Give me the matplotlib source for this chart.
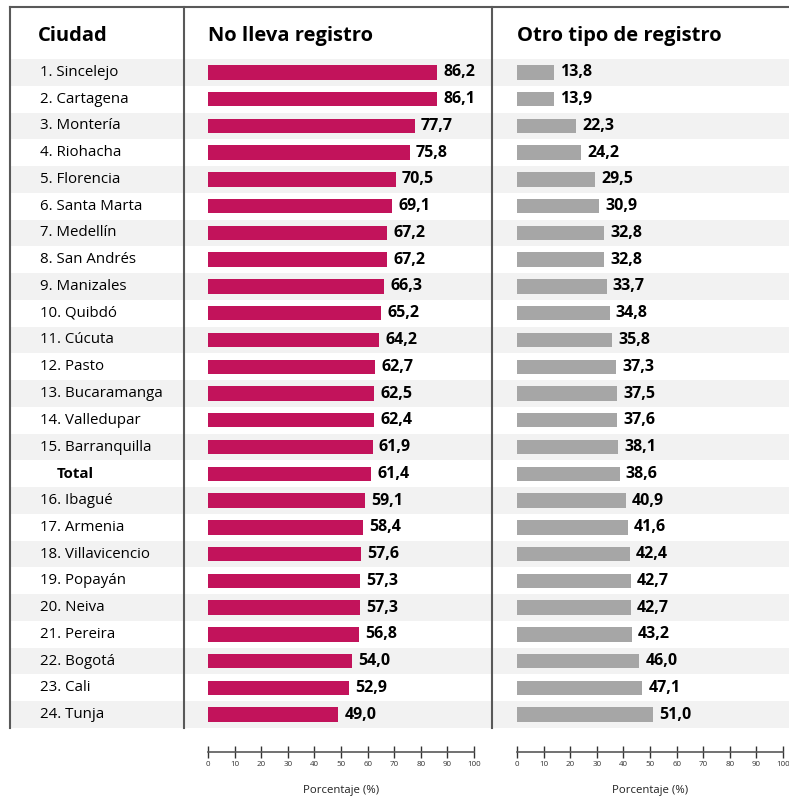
import matplotlib
matplotlib.use("Agg")
import matplotlib.pyplot as plt
from matplotlib.patches import Rectangle

plt.rcParams['font.family'] = ['Open Sans', 'DejaVu Sans']

ciudades = ["1. Sincelejo", "2. Cartagena", "3. Montería", "4. Riohacha", "5. Florencia",
            "6. Santa Marta", "7. Medellín", "8. San Andrés", "9. Manizales", "10. Quibdó",
            "11. Cúcuta", "12. Pasto", "13. Bucaramanga", "14. Valledupar", "15. Barranquilla",
            "Total", "16. Ibagué", "17. Armenia", "18. Villavicencio", "19. Popayán",
            "20. Neiva", "21. Pereira", "22. Bogotá", "23. Cali", "24. Tunja"]
no_lleva = [86.2, 86.1, 77.7, 75.8, 70.5, 69.1, 67.2, 67.2, 66.3, 65.2, 64.2, 62.7, 62.5,
            62.4, 61.9, 61.4, 59.1, 58.4, 57.6, 57.3, 57.3, 56.8, 54.0, 52.9, 49.0]
otro_tipo = [13.8, 13.9, 22.3, 24.2, 29.5, 30.9, 32.8, 32.8, 33.7, 34.8, 35.8, 37.3, 37.5,
             37.6, 38.1, 38.6, 40.9, 41.6, 42.4, 42.7, 42.7, 43.2, 46.0, 47.1, 51.0]
encabezados = ["Ciudad", "No lleva registro", "Otro tipo de registro"]
ticks = list(range(0, 101, 10))

W, H = 789, 796
MAGENTA = "#C2135B"
GRIS = "#A6A6A6"
BANDA = "#F2F2F2"
LINEA = "#595959"

fig = plt.figure(figsize=(W / 100, H / 100), dpi=100)

# background layer in pixel coordinates
bg = fig.add_axes([0, 0, 1, 1])
bg.set_xlim(0, W)
bg.set_ylim(H, 0)
bg.axis("off")

top, bottom = 59, 728
n = len(ciudades)
row_h = (bottom - top) / n
for i in range(n):
    if i % 2 == 0:
        bg.add_patch(Rectangle((10, top + i * row_h), W - 10, row_h, color=BANDA, lw=0, zorder=0))

bg.plot([10, W], [7, 7], color=LINEA, lw=1.5, zorder=3)
for x in (10, 184, 492):
    bg.plot([x, x], [7, bottom], color=LINEA, lw=1.5, zorder=3)

bg.text(38, 36, encabezados[0], fontsize=14.5, fontweight="bold", va="center", ha="left")
bg.text(208, 36, encabezados[1], fontsize=14.5, fontweight="bold", va="center", ha="left")
bg.text(517, 36, encabezados[2], fontsize=14.5, fontweight="bold", va="center", ha="left")

for i, c in enumerate(ciudades):
    y = top + (i + 0.5) * row_h
    if c == "Total":
        bg.text(57, y, c, fontsize=10.8, fontweight="bold", va="center", ha="left")
    else:
        bg.text(40, y, c, fontsize=10.8, va="center", ha="left")


def panel(x0, x1, valores, color):
    ax = fig.add_axes([x0 / W, (H - bottom) / H, (x1 - x0) / W, (bottom - top) / H])
    ax.set_xlim(0, 100)
    ax.set_ylim(n - 0.5, -0.5)
    ax.axis("off")
    ax.patch.set_alpha(0)
    ys = list(range(n))
    ax.barh(ys, valores, height=0.54, color=color, zorder=2)
    for y, v in zip(ys, valores):
        ax.annotate(f"{v:.1f}".replace(".", ","), (v, y), xytext=(4.5, 0),
                    textcoords="offset points", va="center", ha="left",
                    fontsize=11.5, fontweight="bold", clip_on=False)
    # percentage scale below the table
    sx = fig.add_axes([x0 / W, (H - 752) / H, (x1 - x0) / W, 0.001])
    sx.set_xlim(0, 100)
    sx.set_yticks([])
    for s in ("top", "left", "right"):
        sx.spines[s].set_visible(False)
    sx.spines["bottom"].set_color(LINEA)
    sx.spines["bottom"].set_linewidth(1.2)
    sx.set_xticks(ticks)
    sx.tick_params(axis="x", direction="inout", length=9, width=1, color="#333333",
                   labelsize=5.8, labelcolor="#333333", pad=2)
    sx.patch.set_alpha(0)
    sx.set_xlabel("Porcentaje (%)", fontsize=8.2, color="#222222", labelpad=12)
    return ax


panel(208, 474, no_lleva, MAGENTA)
panel(517, 783, otro_tipo, GRIS)

fig.savefig("out.png", dpi=100)
